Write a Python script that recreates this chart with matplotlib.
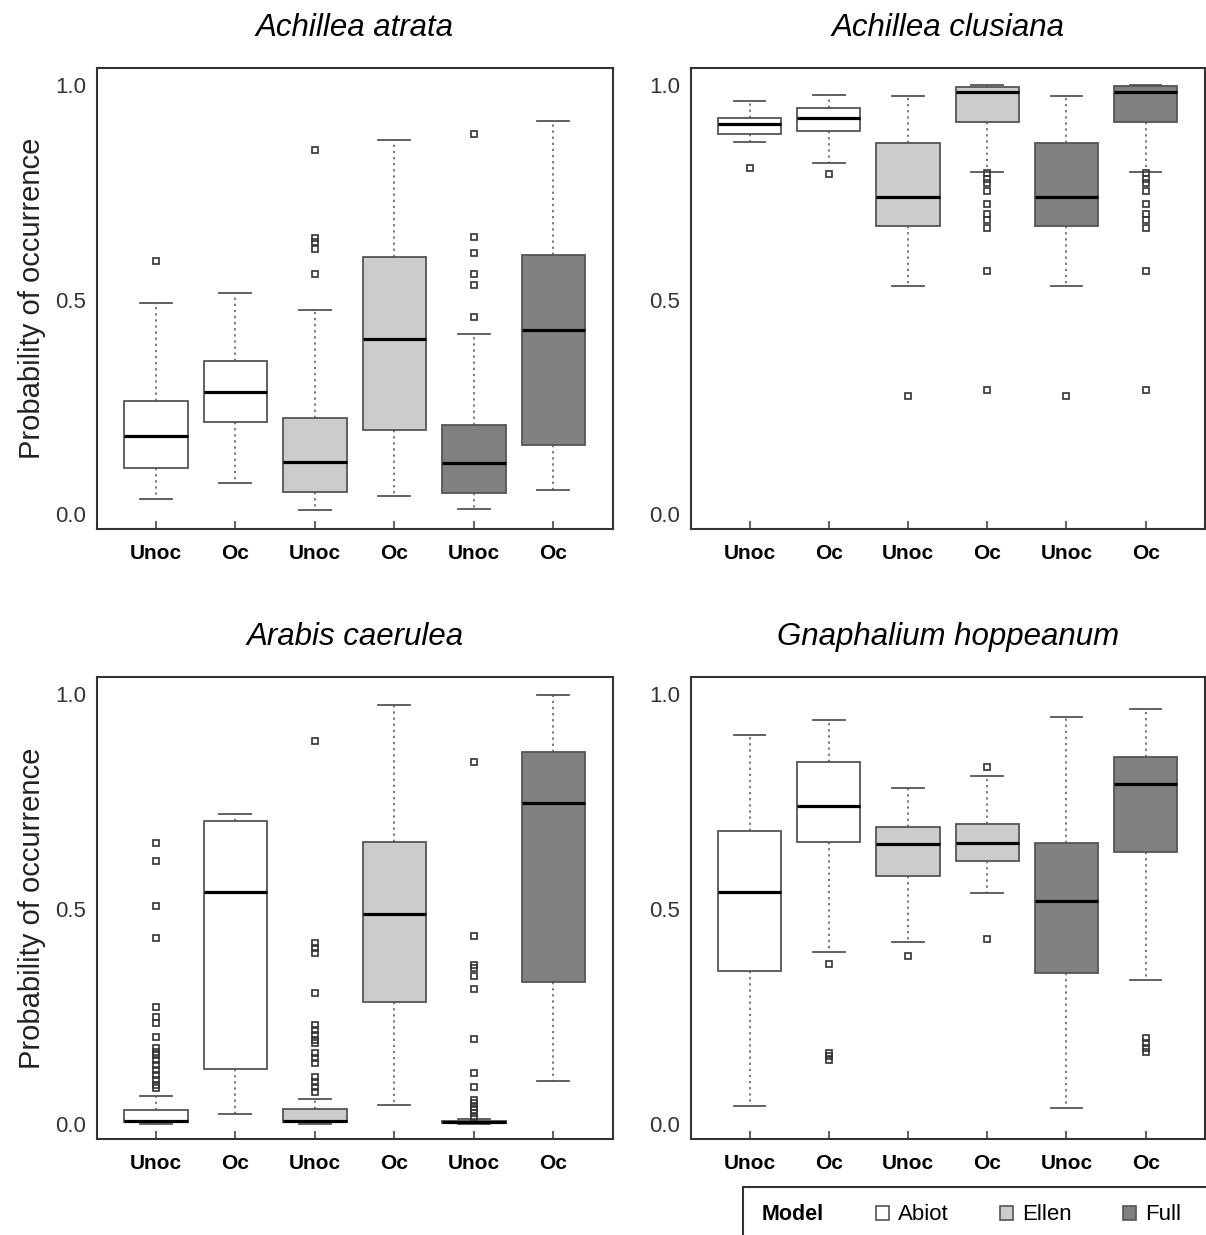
import matplotlib
matplotlib.use('Agg')
import matplotlib.pyplot as plt
from matplotlib.patches import Patch, Rectangle

plt.rcParams['font.family'] = ['Liberation Sans', 'DejaVu Sans']

groups = ['Unoc', 'Oc', 'Unoc', 'Oc', 'Unoc', 'Oc']
models = ['Abiot', 'Ellen', 'Full']
model_colors = ['#ffffff', '#cccccc', '#808080']
species = ['Achillea atrata', 'Achillea clusiana',
           'Arabis caerulea', 'Gnaphalium hoppeanum']

# per box: whislo, q1, median, q3, whishi
# order: Abiot Unoc, Abiot Oc, Ellen Unoc, Ellen Oc, Full Unoc, Full Oc
atrata_stats = [[0.034, 0.107, 0.182, 0.263, 0.493],
                [0.072, 0.214, 0.284, 0.357, 0.516],
                [0.010, 0.052, 0.122, 0.224, 0.476],
                [0.042, 0.195, 0.409, 0.600, 0.872],
                [0.011, 0.048, 0.118, 0.208, 0.419],
                [0.057, 0.161, 0.429, 0.603, 0.916]]
atrata_fliers = [[0.589],
                 [],
                 [0.849, 0.644, 0.634, 0.619, 0.559],
                 [],
                 [0.886, 0.646, 0.609, 0.560, 0.534, 0.459],
                 []]

clusiana_stats = [[0.868, 0.887, 0.909, 0.923, 0.962],
                  [0.818, 0.892, 0.923, 0.946, 0.977],
                  [0.531, 0.672, 0.740, 0.864, 0.974],
                  [0.798, 0.915, 0.984, 0.996, 1.000],
                  [0.531, 0.672, 0.740, 0.864, 0.974],
                  [0.798, 0.915, 0.984, 0.997, 1.000]]
clusiana_fliers = [[0.806],
                   [0.793],
                   [0.275],
                   [0.795, 0.782, 0.771, 0.754, 0.722, 0.700, 0.685, 0.668,
                    0.567, 0.288],
                   [0.275],
                   [0.795, 0.782, 0.771, 0.754, 0.722, 0.700, 0.685, 0.668,
                    0.567, 0.288]]

arabis_stats = [[0.000, 0.004, 0.008, 0.033, 0.066],
                [0.024, 0.128, 0.540, 0.705, 0.722],
                [0.000, 0.005, 0.008, 0.034, 0.059],
                [0.043, 0.283, 0.488, 0.657, 0.974],
                [0.000, 0.002, 0.004, 0.006, 0.012],
                [0.100, 0.331, 0.747, 0.865, 0.998]]
arabis_fliers = [[0.654, 0.611, 0.507, 0.433, 0.273, 0.250, 0.234, 0.202,
                  0.176, 0.168, 0.160, 0.149, 0.137, 0.126, 0.114, 0.102,
                  0.091, 0.083],
                 [],
                 [0.891, 0.420, 0.409, 0.397, 0.304, 0.230, 0.219, 0.207,
                  0.195, 0.188, 0.164, 0.153, 0.141, 0.110, 0.098, 0.087,
                  0.075],
                 [],
                 [0.843, 0.438, 0.370, 0.362, 0.344, 0.313, 0.197, 0.119,
                  0.085, 0.056, 0.048, 0.040, 0.033, 0.025, 0.017],
                 []]

gnaph_stats = [[0.042, 0.356, 0.540, 0.682, 0.906],
               [0.400, 0.657, 0.740, 0.842, 0.941],
               [0.424, 0.578, 0.652, 0.692, 0.782],
               [0.538, 0.612, 0.653, 0.698, 0.810],
               [0.038, 0.351, 0.519, 0.653, 0.947],
               [0.335, 0.633, 0.791, 0.854, 0.965]]
gnaph_fliers = [[],
                [0.372, 0.164, 0.157, 0.149],
                [0.391],
                [0.830, 0.431],
                [],
                [0.199, 0.188, 0.176, 0.168]]

panel_stats = [atrata_stats, clusiana_stats, arabis_stats, gnaph_stats]
panel_fliers = [atrata_fliers, clusiana_fliers, arabis_fliers, gnaph_fliers]

W, H = 1206, 1235
fig = plt.figure(figsize=(W / 100, H / 100), dpi=100)

#axes rectangles in pixels: left, top, right, bottom
rects = [(97, 68, 613, 529), (691, 68, 1205, 529),
         (97, 677, 613, 1139), (691, 677, 1205, 1139)]

positions = list(range(1, 7))
box_colors = [model_colors[i // 2] for i in range(6)]

for k, (l, t, r, b) in enumerate(rects):
    ax = fig.add_axes([l / W, 1 - b / H, (r - l) / W, (b - t) / H])
    stats = []
    for s, fl in zip(panel_stats[k], panel_fliers[k]):
        stats.append(dict(whislo=s[0], q1=s[1], med=s[2], q3=s[3],
                          whishi=s[4], fliers=fl))
    res = ax.bxp(stats, positions=positions, widths=0.8, capwidths=0.4,
                 patch_artist=True,
                 boxprops=dict(edgecolor='#555555', linewidth=1.3),
                 medianprops=dict(color='black', linewidth=2.3),
                 whiskerprops=dict(color='#555555', linewidth=1.1,
                                   linestyle=(0, (1.5, 2.5))),
                 capprops=dict(color='#555555', linewidth=1.3),
                 flierprops=dict(marker='s', markersize=4.2,
                                 markerfacecolor='none',
                                 markeredgecolor='#333333',
                                 markeredgewidth=1.2, linestyle='none'))
    for patch, c in zip(res['boxes'], box_colors):
        patch.set_facecolor(c)

    ax.set_xlim(0.26, 6.75)
    ax.set_ylim(-0.035, 1.04)
    ax.set_xticks(positions, groups, fontweight='bold')
    ax.set_yticks([0, 0.5, 1.0], ['0.0', '0.5', '1.0'])
    ax.tick_params(axis='x', direction='in', length=6, width=1.3,
                   color='#555555', pad=11, labelsize=15)
    ax.tick_params(axis='y', length=0, pad=8, labelsize=16,
                   labelcolor='#333333')
    for sp in ax.spines.values():
        sp.set_linewidth(1.5)
        sp.set_color('#333333')
    ax.set_title(species[k], fontsize=22.5, style='italic', pad=23)
    if k % 2 == 0:
        ax.set_ylabel('Probability of occurrence', fontsize=21,
                      color='#222222')
        ax.yaxis.set_label_coords(-0.099, 0.5)

#legend box at bottom right, partly outside the figure
fig.patches.append(Rectangle((743 / W, -0.1), 1, 0.1 + 1 - 1187 / H,
                             transform=fig.transFigure, fill=False,
                             linewidth=1.5, edgecolor='#333333'))
fig.text(762 / W, 1 - 1215 / H, 'Model', fontsize=15.5, fontweight='bold',
         va='center', ha='left')
handles = [Patch(facecolor=c, edgecolor='#555555', linewidth=1.2, label=m)
           for c, m in zip(model_colors, models)]
fig.legend(handles=handles, ncol=3, frameon=False, loc='center left',
           bbox_to_anchor=(876 / W, 1 - 1215 / H), fontsize=16,
           handlelength=0.6, handleheight=0.6, handletextpad=0.4,
           columnspacing=2.3, borderpad=0, borderaxespad=0)

fig.savefig('out.png', dpi=100)
